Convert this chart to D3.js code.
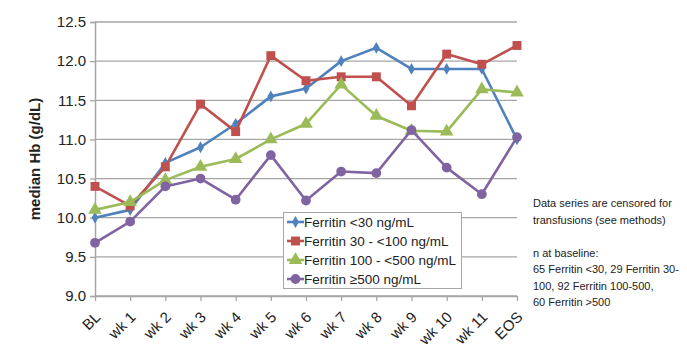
<!DOCTYPE html>
<html><head><meta charset="utf-8">
<script src="https://cdn.jsdelivr.net/npm/d3@7/dist/d3.min.js"></script>
<style>body{margin:0;background:#fff;} svg{display:block;}</style>
</head><body>
<svg id="chart" width="687" height="344"></svg>
<script>
const categories = ["BL","wk 1","wk 2","wk 3","wk 4","wk 5","wk 6","wk 7","wk 8","wk 9","wk 10","wk 11","EOS"];
const seriesNames = ["Ferritin <30 ng/mL","Ferritin 30 - <100 ng/mL","Ferritin 100 - <500 ng/mL","Ferritin \u2265500 ng/mL"];
const ferritinLt30 = [10.0,10.1,10.7,10.9,11.2,11.55,11.65,12.0,12.17,11.9,11.9,11.9,11.0];
const ferritin30to100 = [10.4,10.15,10.65,11.45,11.1,12.07,11.75,11.8,11.8,11.43,12.09,11.96,12.2];
const ferritin100to500 = [10.1,10.2,10.48,10.65,10.75,11.0,11.2,11.7,11.3,11.11,11.1,11.64,11.6];
const ferritinGe500 = [9.68,9.95,10.4,10.5,10.23,10.8,10.22,10.59,10.57,11.12,10.64,10.3,11.03];
const yTicks = [9.0,9.5,10.0,10.5,11.0,11.5,12.0,12.5];
const noteLines = ["Data series are censored for","transfusions (see methods)","","n at baseline:","65 Ferritin <30, 29 Ferritin 30-","100, 92 Ferritin 100-500,","60 Ferritin >500"];

const colors = ["#4F81BD","#C0504D","#9BBB59","#8064A2"];
const symbols = [d3.symbolDiamond, d3.symbolSquare, d3.symbolTriangle, d3.symbolCircle];
const symSizes = [40, 80, 80, 75];
const allSeries = [ferritinLt30, ferritin30to100, ferritin100to500, ferritinGe500];

const svg = d3.select("#chart");
const font = "'Liberation Sans', Arial, sans-serif";
const L = 95, R = 517, T = 22, B = 296;
const x = d3.scalePoint().domain(categories).range([L, R]);
const y = d3.scaleLinear().domain([9, 12.5]).range([B, T]);

// gridlines
svg.append("g").selectAll("line").data(yTicks).join("line")
  .attr("x1", L).attr("x2", R).attr("y1", d => y(d)).attr("y2", d => y(d))
  .attr("stroke", "#A6A6A6").attr("stroke-width", 1.3);

// y axis
const ya = svg.append("g").attr("transform", `translate(${L},0)`)
  .call(d3.axisLeft(y).tickValues(yTicks).tickFormat(d3.format(".1f")).tickSize(5).tickPadding(4));
ya.select(".domain").attr("stroke", "#A6A6A6").attr("stroke-width", 1.5);
ya.selectAll(".tick line").attr("stroke", "#A6A6A6").attr("stroke-width", 1.3);
ya.selectAll("text").attr("font-family", font).attr("font-size", 15).attr("fill", "#222");

// x axis
const xa = svg.append("g").attr("transform", `translate(0,${B})`)
  .call(d3.axisBottom(x).tickSize(5).tickSizeOuter(0));
xa.select(".domain").attr("stroke", "#A6A6A6").attr("stroke-width", 1.5);
xa.selectAll(".tick line").attr("stroke", "#A6A6A6").attr("stroke-width", 1.3);
xa.selectAll("text").attr("font-family", font).attr("font-size", 15).attr("fill", "#222")
  .attr("text-anchor", "end").attr("dy", 0).attr("y", 0)
  .attr("transform", "translate(6,22) rotate(-45)");

// y title
svg.append("text").attr("transform", `translate(40,${(T+B)/2}) rotate(-90)`)
  .attr("text-anchor", "middle").attr("font-family", font).attr("font-weight", "bold")
  .attr("font-size", 15).attr("fill", "#222").text("median Hb (g/dL)");

// series
const line = d3.line().x((d,i) => x(categories[i])).y(d => y(d));
allSeries.forEach((vals, s) => {
  svg.append("path").datum(vals).attr("d", line).attr("fill", "none")
    .attr("stroke", colors[s]).attr("stroke-width", 2.6).attr("stroke-linejoin", "round");
  svg.append("g").selectAll("path").data(vals).join("path")
    .attr("d", d3.symbol().type(symbols[s]).size(symSizes[s]))
    .attr("transform", (d,i) => `translate(${x(categories[i])},${y(d)})`)
    .attr("fill", colors[s]);
});

// legend
const lg = svg.append("g");
lg.append("rect").attr("x", 283.5).attr("y", 212.5).attr("width", 178).attr("height", 76)
  .attr("fill", "#fff").attr("stroke", "#A6A6A6").attr("stroke-width", 1);
seriesNames.forEach((n, s) => {
  const cy = 222 + s * 19;
  lg.append("line").attr("x1", 287).attr("x2", 304).attr("y1", cy).attr("y2", cy)
    .attr("stroke", colors[s]).attr("stroke-width", 2.6);
  lg.append("path").attr("d", d3.symbol().type(symbols[s]).size(symSizes[s])())
    .attr("transform", `translate(295.5,${cy})`).attr("fill", colors[s]);
  lg.append("text").attr("x", 304).attr("y", cy + 5).attr("font-family", font)
    .attr("font-size", 13.5).attr("fill", "#222").text(n);
});

// note
svg.append("g").selectAll("text").data(noteLines).join("text")
  .attr("x", 533).attr("y", (d,i) => 207 + i * 16.5)
  .attr("font-family", font).attr("font-size", 11).attr("fill", "#222").text(d => d);
</script>
</body></html>
